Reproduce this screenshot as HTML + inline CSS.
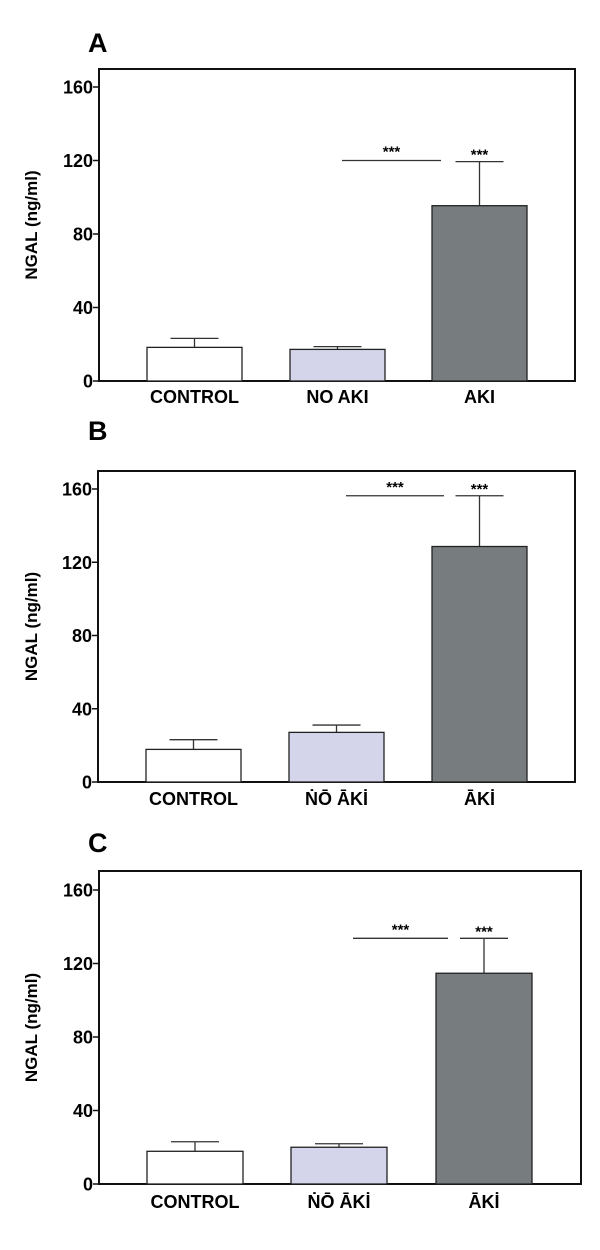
<!DOCTYPE html>
<html><head><meta charset="utf-8"><style>
body{margin:0;background:#fff;}
svg{display:block;font-family:"Liberation Sans",Arial,sans-serif;}
</style></head><body>
<svg id="fig" width="600" height="1250" viewBox="0 0 600 1250"></svg>
<script>
const categories = ["CONTROL","NO AKI","AKI"];
const catLabelsA = ["CONTROL","NO AKI","AKI"];
const catLabelsBC = ["CONTROL","ṄŌ ĀKİ","ĀKİ"];
const meansA = [18.3, 17.2, 95.4];
const errA = [23.2, 18.7, 119.4];
const meansB = [17.8, 27.1, 128.6];
const errB = [23.1, 31.1, 156.3];
const meansC = [17.8, 20.0, 114.7];
const errC = [23.0, 21.9, 133.7];
const sigA = 120, sigB = 156.3, sigC = 133.7;
const yTicks = [0, 40, 80, 120, 160];
const yMax = 160;
const fills = ["#ffffff", "#d4d4ea", "#777d7f"];

const svg = document.getElementById('fig');
const NS = "http://www.w3.org/2000/svg";
function mk(tag, attrs, parent){
  const e = document.createElementNS(NS, tag);
  for (const k in attrs) e.setAttribute(k, attrs[k]);
  (parent||svg).appendChild(e);
  return e;
}
function panel(p){
  const g = mk('g', {});
  
  
  const yScale = v => p.zero - (v / yMax) * (p.zero - p.y160);
  const xBand = i => p.barX[i];
  const t = mk('text', {x: 88, y: p.letterY, 'font-size': 27, 'font-weight': 'bold'}, g);
  t.textContent = p.letter;
  
  
  // frame
  const fr = mk('rect', {x: p.left, y: p.top, width: p.right - p.left, height: p.zero - p.top, fill: 'none', stroke: '#111', 'stroke-width': 2}, g);
  
  
  yTicks.forEach(v => {
    const y = yScale(v);
    const tk = mk('line', {x1: p.left - 6, x2: p.left, y1: y, y2: y, stroke: '#111', 'stroke-width': 1.5}, g);
    
    
    const tl = mk('text', {x: p.left - 6, y: y + 6.5, 'font-size': 18, 'font-weight': 'bold', 'text-anchor': 'end'}, g);
    tl.textContent = v;
    
    
  });
  const cy = (p.top + p.zero) / 2;
  const yt = mk('text', {x: 37, y: cy, 'font-size': 17, 'font-weight': 'bold', 'text-anchor': 'middle', transform: 'rotate(-90 37 ' + cy + ')'}, g);
  yt.textContent = 'NGAL (ng/ml)';
  
  
  categories.forEach((c, i) => {
    const x0 = xBand(i), w = p.barW, cx = x0 + w / 2;
    const ey = yScale(p.err[i]), my = yScale(p.means[i]);
    const el = mk('line', {x1: cx, x2: cx, y1: ey, y2: my, stroke: '#333', 'stroke-width': 1.3}, g);
    
    
    const cap = mk('line', {x1: cx - 24, x2: cx + 24, y1: ey, y2: ey, stroke: '#333', 'stroke-width': 1.3}, g);
    
    
    const b = mk('rect', {x: x0, y: my, width: w, height: p.zero - my, fill: fills[i], stroke: '#222', 'stroke-width': 1.3}, g);
    
    
    const xl = mk('text', {x: cx, y: p.labelY, 'font-size': 18, 'font-weight': 'bold', 'text-anchor': 'middle'}, g);
    xl.textContent = p.labels[i];
    
    
  });
  // significance
  const sy = yScale(p.sig);
  const sl = mk('line', {x1: p.sigX1, x2: p.sigX2, y1: sy, y2: sy, stroke: '#333', 'stroke-width': 1.3}, g);
  
  
  const s1 = mk('text', {x: (p.sigX1 + p.sigX2) / 2, y: sy - 4, 'font-size': 15, 'font-weight': 'bold', 'text-anchor': 'middle'}, g);
  s1.textContent = '***';
  
  
  const acx = xBand(2) + p.barW / 2;
  const s2 = mk('text', {x: acx, y: yScale(p.err[2]) - 2, 'font-size': 15, 'font-weight': 'bold', 'text-anchor': 'middle'}, g);
  s2.textContent = '***';
  
  
}
panel({letter:'A', letterY:52, left:99, right:575, top:69, zero:381, y160:87, barX:[147,290,432], barW:95,
  means:meansA, err:errA, sig:sigA, sigX1:342, sigX2:441, labels:catLabelsA, labelY:403});
panel({letter:'B', letterY:440, left:98, right:575, top:471, zero:782, y160:489, barX:[146,289,432], barW:95,
  means:meansB, err:errB, sig:sigB, sigX1:346, sigX2:444, labels:catLabelsBC, labelY:805});
panel({letter:'C', letterY:852, left:99, right:581, top:871, zero:1184, y160:890, barX:[147,291,436], barW:96,
  means:meansC, err:errC, sig:sigC, sigX1:353, sigX2:448, labels:catLabelsBC, labelY:1208});
</script>
</body></html>
